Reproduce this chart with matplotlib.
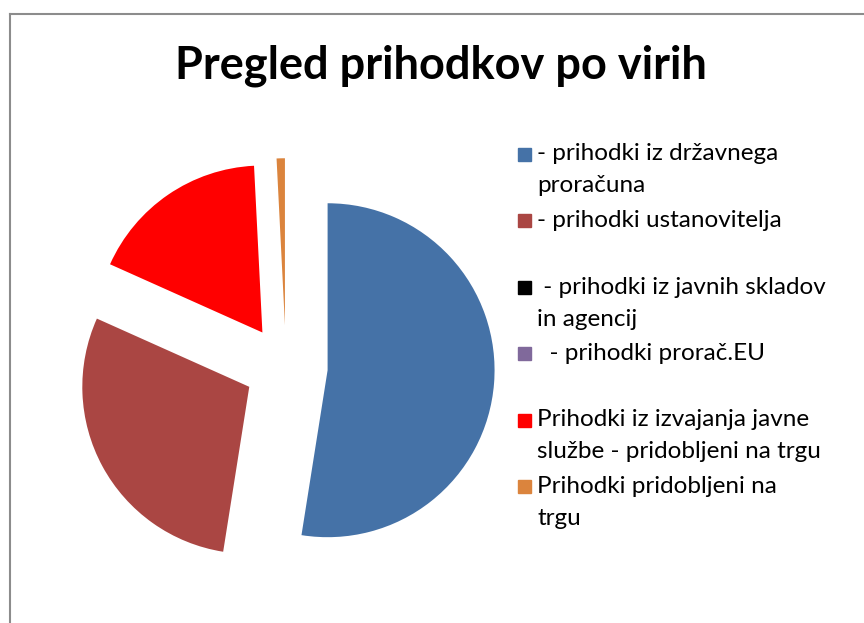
import matplotlib
matplotlib.use("Agg")
import matplotlib.pyplot as plt
from matplotlib.lines import Line2D
from matplotlib.patches import Rectangle

plt.rcParams['font.family'] = ['Lato', 'DejaVu Sans']

# deleži prihodkov (v %)
labels = ["- prihodki iz državnega\nproračuna",
          "- prihodki ustanovitelja",
          " - prihodki iz javnih skladov\nin agencij",
          "  - prihodki prorač.EU",
          "Prihodki iz izvajanja javne\nslužbe - pridobljeni na trgu",
          "Prihodki pridobljeni na\ntrgu"]
values = [52.5, 29.2, 0.0, 0.0, 17.5, 0.8]
colors = ['#4572A7', '#AA4643', '#000000', '#80699B', '#FF0000', '#DB843D']
explode = [0.25, 0.25, 0.25, 0.25, 0.25, 0.25]

W, H = 864, 623
fig = plt.figure(figsize=(W / 100, H / 100), dpi=100)

def fx(px):
    return px / W

def fy(py):
    return 1 - py / H

# okvir grafa
fig.add_artist(Line2D([fx(10), fx(10)], [0, fy(14)], color='#8c8c8c', lw=1.5))
fig.add_artist(Line2D([fx(10), 1], [fy(14), fy(14)], color='#8c8c8c', lw=1.5))

ax = fig.add_axes([0.041, 0.009, 0.580, 0.804])
ax.pie(values, colors=colors, explode=explode, startangle=90, counterclock=False,
       radius=1.0, wedgeprops=dict(linewidth=0))
ax.set_xlim(-1.5, 1.5)
ax.set_ylim(-1.5, 1.5)
ax.set_aspect('equal')
ax.axis('off')

fig.text(fx(441), fy(66), "Pregled prihodkov po virih", ha='center', va='center',
         fontsize=32.5, fontweight='bold')

# legenda - enakomerni razmiki kot v Excelu
for i, (lab, c) in enumerate(zip(labels, colors)):
    y0 = 154 + 66.5 * i
    fig.add_artist(Rectangle((fx(518), fy(y0 + 6.5)), fx(13), 13 / H, color=c,
                             transform=fig.transFigure))
    for j, line in enumerate(lab.split("\n")):
        fig.text(fx(537), fy(y0 + 32 * j), line, ha='left', va='center', fontsize=17.5)

fig.savefig("out.png", dpi=100)
